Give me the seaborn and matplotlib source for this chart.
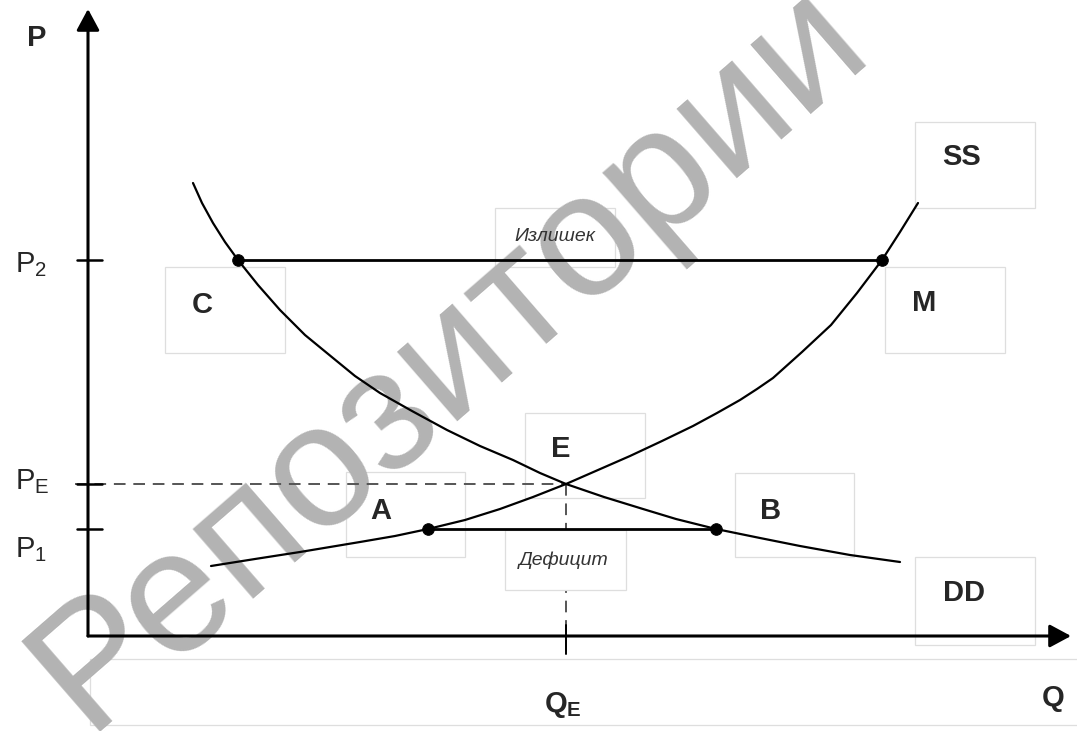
import seaborn as sns
import matplotlib.pyplot as plt
from matplotlib.patches import Rectangle

# demand curve DD and supply curve SS (Q, P)
demand_q = [10.5, 11.4, 12.5, 13.7, 15.0, 17.0, 19.2, 21.7, 24.5, 26.7, 29.2, 32.4, 35.9,
            39.2, 42.5, 45.2, 47.8, 51.6, 55.5, 58.8, 62.8, 67.2, 71.2, 76.2, 81.2]
demand_p = [45.3, 43.3, 41.3, 39.4, 37.6, 35.1, 32.6, 30.1, 27.8, 26.0, 24.3, 22.5, 20.6,
            19.0, 17.6, 16.3, 15.2, 13.9, 12.7, 11.7, 10.7, 9.8, 9.0, 8.1, 7.4]
supply_q = [12.3, 16.7, 21.2, 24.2, 27.2, 30.7, 34.0, 37.7, 41.2, 44.5, 47.8, 51.0, 54.2,
            57.4, 60.5, 62.9, 65.2, 66.9, 68.5, 71.4, 74.3, 76.9, 79.4, 81.2, 83.0]
supply_p = [7.0, 7.7, 8.4, 8.9, 9.4, 10.0, 10.7, 11.6, 12.7, 13.9, 15.2, 16.6, 18.0,
            19.5, 21.0, 22.3, 23.6, 24.7, 25.8, 28.4, 31.1, 34.3, 37.6, 40.4, 43.3]

# marked points C, M (price P2) and A, B (price P1)
point_names = ['C', 'M', 'A', 'B']
point_q = [15.0, 79.4, 34.0, 62.8]
point_p = [37.6, 37.6, 10.7, 10.7]

p2 = 37.6
pe = 15.2
p1 = 10.7
qe = 47.8

sns.set_style('white')
plt.rcParams['font.family'] = ['Liberation Sans', 'DejaVu Sans']
plt.rcParams['mathtext.fontset'] = 'custom'
plt.rcParams['mathtext.rm'] = 'Liberation Sans'
plt.rcParams['mathtext.bf'] = 'Liberation Sans:bold'

fig = plt.figure(figsize=(10.77, 7.31), dpi=100)
ax = fig.add_axes([0, 0, 1, 1])
ax.set_xlim(-8.8, 98.9)
ax.set_ylim(-9.5, 63.6)
ax.axis('off')

# light label boxes
boxes = [(40.7, 36.9, 12.0, 5.9), (7.7, 28.3, 12.0, 8.6), (82.7, 42.8, 12.0, 8.6),
         (79.7, 28.3, 12.0, 8.6), (43.7, 13.8, 12.0, 8.5), (25.8, 7.9, 11.9, 8.5),
         (64.7, 7.9, 11.9, 8.4), (82.7, -0.9, 12.0, 8.8), (0.2, -8.9, 100.0, 6.6)]
for bx, by, bw, bh in boxes:
    ax.add_patch(Rectangle((bx, by), bw, bh, facecolor='white', edgecolor='#dedede', lw=0.9, zorder=1))

# watermark
ax.text(36.2, 28.0, 'Репозитории', rotation=41, ha='center', va='center',
        fontsize=126, color='#b3b3b3', zorder=1.5)

# dashed guides to equilibrium
ax.plot([-1.3, qe], [pe, pe], ls=(0, (6, 4)), color='#555555', lw=1.4, zorder=2)
ax.plot([qe, qe], [pe, -1.8], ls=(0, (6, 4)), color='#555555', lw=1.4, zorder=2)
ax.add_patch(Rectangle((41.7, 4.6), 12.1, 6.0, facecolor='white', edgecolor='#dedede', lw=0.9, zorder=2.5))

# axes with arrows
ax.annotate('', xy=(0, 62.7), xytext=(0, 0),
            arrowprops=dict(arrowstyle='-|>,head_length=0.65,head_width=0.35', mutation_scale=20,
                            lw=2.2, color='black', shrinkA=0, shrinkB=0), zorder=4)
ax.annotate('', xy=(98.3, 0), xytext=(0, 0),
            arrowprops=dict(arrowstyle='-|>,head_length=0.65,head_width=0.35', mutation_scale=20,
                            lw=2.2, color='black', shrinkA=0, shrinkB=0), zorder=4)
for level in [p2, pe, p1]:
    ax.plot([-1.1, 1.4], [level, level], color='black', lw=1.8, zorder=4)
ax.plot([qe, qe], [1.1, -1.8], color='black', lw=1.4, zorder=4)

# curves and price lines
sns.lineplot(x=demand_q, y=demand_p, sort=False, color='black', lw=1.6, ax=ax, zorder=3)
sns.lineplot(x=supply_q, y=supply_p, sort=False, color='black', lw=1.6, ax=ax, zorder=3)
ax.plot([point_q[0], point_q[1]], [p2, p2], color='black', lw=2.0, zorder=3)
ax.plot([point_q[2], point_q[3]], [p1, p1], color='black', lw=2.0, zorder=3)
sns.scatterplot(x=point_q, y=point_p, color='black', s=70, edgecolor='black', ax=ax, zorder=5)

# labels
bold = dict(fontsize=21, fontweight='bold', ha='center', va='center', zorder=6)
ax.text(11.4, 33.1, 'C', **bold)
ax.text(83.6, 33.3, 'M', **bold)
ax.text(87.4, 47.9, 'SS', **bold)
ax.text(47.3, 18.7, 'E', **bold)
ax.text(29.3, 12.5, 'A', **bold)
ax.text(68.3, 12.5, 'B', **bold)
ax.text(87.6, 4.3, 'DD', **bold)
ax.text(96.5, -6.2, 'Q', **bold)
ax.text(45.6, -7.6, r'Q$_\mathbf{E}$', fontsize=21, fontweight='bold', va='baseline', zorder=6)

ax.text(-5.1, 59.8, 'P', fontsize=21, fontweight='bold', ha='center', va='center', zorder=6)
ax.text(-7.3, 36.4, r'P$_\mathrm{2}$', fontsize=21, va='baseline', zorder=6)
ax.text(-7.3, 14.7, r'P$_\mathrm{E}$', fontsize=21, va='baseline', zorder=6)
ax.text(-7.3, 7.9, r'P$_\mathrm{1}$', fontsize=21, va='baseline', zorder=6)

ax.text(46.7, 39.9, 'Излишек', fontsize=14, style='italic', color='#333333', ha='center', va='center', zorder=6)
ax.text(47.6, 7.6, 'Дефицит', fontsize=14, style='italic', color='#333333', ha='center', va='center', zorder=6)

fig.savefig('out.png', dpi=100)
